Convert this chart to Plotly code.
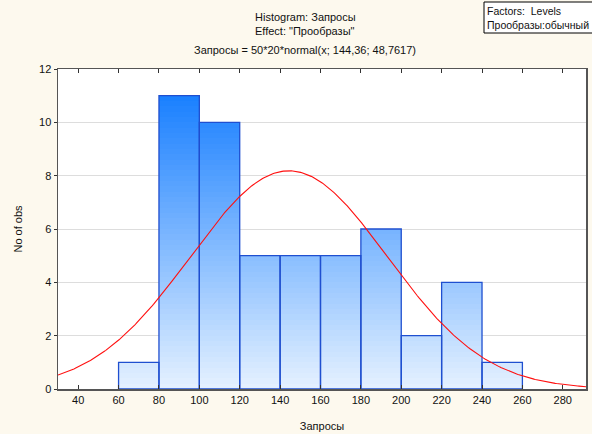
import numpy as np
import plotly.graph_objects as go

# Data
bin_left = [60, 80, 100, 120, 140, 160, 180, 200, 220, 240]
bin_width = 20
counts = [1, 11, 10, 5, 5, 5, 6, 2, 4, 1]
n_obs = 50
fit_mean = 144.36
fit_sd = 48.7617
x_ticks = [40, 60, 80, 100, 120, 140, 160, 180, 200, 220, 240, 260, 280]
y_ticks = [0, 2, 4, 6, 8, 10, 12]

centers = [b + bin_width / 2 for b in bin_left]

fig = go.Figure()

# gradient fill: overlapping bars, painted from top level down
top_col = np.array([26, 128, 255])
bot_col = np.array([230, 242, 255])
gmax = 11.0
dy = 0.2
levels = int(np.ceil(max(counts) / dy))
for k in range(levels - 1, -1, -1):
    lvl_top = (k + 1) * dy
    ys = []
    xs = []
    for c, cnt in zip(centers, counts):
        if cnt > k * dy:
            xs.append(c)
            ys.append(min(cnt, lvl_top))
    if not xs:
        continue
    t = min(1.0, (k + 0.5) * dy / gmax)
    col = bot_col + (top_col - bot_col) * t
    fig.add_trace(go.Bar(
        x=xs, y=ys, width=bin_width,
        marker=dict(color="rgb(%d,%d,%d)" % tuple(col.astype(int)), line=dict(width=0)),
        showlegend=False, hoverinfo="skip"))

# outline
fig.add_trace(go.Bar(
    x=centers, y=counts, width=bin_width,
    marker=dict(color="rgba(0,0,0,0)", line=dict(color="#1f4fd0", width=1.3)),
    showlegend=False, hoverinfo="skip"))

# normal fit curve
xc = np.linspace(30, 292, 400)
yc = n_obs * bin_width * np.exp(-0.5 * ((xc - fit_mean) / fit_sd) ** 2) / (fit_sd * np.sqrt(2 * np.pi))
fig.add_trace(go.Scatter(x=xc, y=yc, mode="lines", line=dict(color="#ff1010", width=1.1),
                         showlegend=False, hoverinfo="skip"))

font = dict(family="Liberation Sans, Arial, sans-serif", size=11, color="#111111")

fig.update_layout(
    width=592, height=434,
    margin=dict(l=58, r=6, t=69, b=45),
    paper_bgcolor="#fdf9ee", plot_bgcolor="#ffffff",
    barmode="overlay", bargap=0,
    font=font,
    showlegend=False,
    hovermode=False,
    xaxis=dict(range=[30, 291.5], tickvals=x_ticks, ticks="inside", ticklen=4,
               tickcolor="#333333", showline=True, linecolor="#555555", linewidth=1.5,
               mirror="ticks", showgrid=False, zeroline=False, automargin=False,
               title=dict(text="Запросы", font=font, standoff=17)),
    yaxis=dict(range=[0, 12], tickvals=y_ticks, ticks="outside", ticklen=3,
               tickcolor="#333333", showline=True, linecolor="#555555", linewidth=1.5,
               mirror=True, showgrid=True, gridcolor="#dddddd", gridwidth=1, zeroline=False,
               automargin=False,
               title=dict(text="No of obs", font=font, standoff=14)),
)

fig.add_annotation(text="Histogram: Запросы", xref="paper", yref="paper",
                   x=0.468, y=1.163, showarrow=False, font=font, yanchor="middle")
fig.add_annotation(text='Effect: "Прообразы"', xref="paper", yref="paper",
                   x=0.468, y=1.118, showarrow=False, font=font, yanchor="middle")
fig.add_annotation(text="Запросы = 50*20*normal(x; 144,36; 48,7617)", xref="paper", yref="paper",
                   x=0.468, y=1.058, showarrow=False, font=font, yanchor="middle")

# factors box
box_font = dict(family="Liberation Sans, Arial, sans-serif", size=10.5, color="#111111")
fig.add_shape(type="rect", xref="paper", yref="paper",
              x0=(484 - 58) / 528, x1=1.2, y0=1 + 36 / 320, y1=1 + 67 / 320,
              line=dict(color="#000000", width=1), fillcolor="#ffffff", layer="above")
fig.add_annotation(text="Factors:  Levels<br>Прообразы:обычный", xref="paper", yref="paper",
                   x=(485 - 58) / 528, y=1 + 51.5 / 320, xanchor="left", yanchor="middle",
                   align="left", showarrow=False, font=box_font)

fig.write_html("out.html", post_script="document.body.style.margin='0';",
               config={"displayModeBar": False, "staticPlot": True})
